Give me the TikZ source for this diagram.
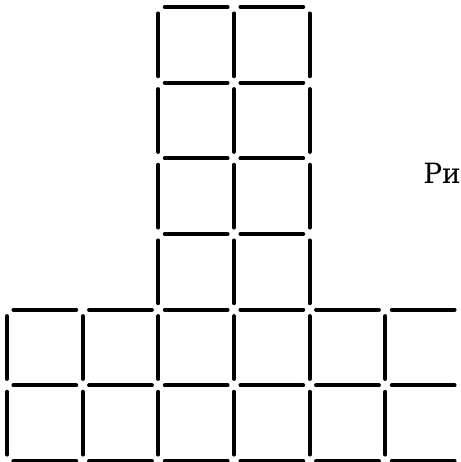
\documentclass[tikz,border=0pt]{standalone}
\usepackage{fontspec}
\newfontfamily\rusfont{DejaVu Serif}
\usetikzlibrary{positioning}

\begin{document}
\begin{tikzpicture}[
  stick/.style={line width=1.5pt,line cap=round,black},
  caption/.style={font=\rusfont\fontsize{10.5}{13}\selectfont,anchor=base west,inner sep=0pt}]
\useasboundingbox (-0.0925,-0.013) rectangle (5.997,6.0925);
\def\g{0.085}
% Lower block: two rows of six squares
\foreach \y in {0,1,2}
  \foreach \x in {0,...,5}
    \draw[stick] (\x+\g,\y) -- (\x+1-\g,\y);
\foreach \x in {0,...,5}
  \foreach \y in {0,1}
    \draw[stick] (\x,\y+\g) -- (\x,\y+1-\g);
% Upper column: four rows of two squares
\foreach \y in {3,...,6}
  \foreach \x in {2,3}
    \draw[stick] (\x+\g,\y) -- (\x+1-\g,\y);
\foreach \x in {2,3,4}
  \foreach \y in {2,...,5}
    \draw[stick] (\x,\y+\g) -- (\x,\y+1-\g);
% Cut-off caption
\node[caption] (ris) at (5.495,3.67) {Ри};
\end{tikzpicture}
\end{document}
